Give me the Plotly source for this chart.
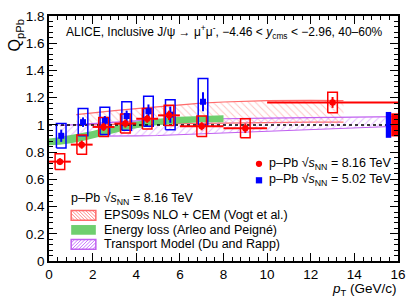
import plotly.graph_objects as go

# ---------------- data ----------------
# p-Pb 8.16 TeV (red)
pt8 = [0.5, 1.5, 2.5, 3.5, 4.5, 5.5, 7.0, 9.0, 13.0]
pt8_lo = [0, 1, 2, 3, 4, 5, 6, 8, 10]
pt8_hi = [1, 2, 3, 4, 5, 6, 8, 10, 20]
q8 = [0.73, 0.855, 0.985, 1.01, 1.045, 1.07, 0.99, 0.975, 1.165]
stat8 = [0.025, 0.03, 0.03, 0.03, 0.03, 0.035, 0.03, 0.035, 0.04]
sys8 = [0.058, 0.07, 0.07, 0.07, 0.075, 0.075, 0.075, 0.07, 0.075]

# p-Pb 5.02 TeV (blue)
pt5 = [0.56, 1.56, 2.56, 3.56, 4.56, 5.56, 7.06]
q5 = [0.92, 1.02, 1.03, 1.065, 1.10, 1.075, 1.17]
stat5 = [0.045, 0.035, 0.035, 0.04, 0.05, 0.06, 0.07]
sys5 = [0.09, 0.10, 0.10, 0.105, 0.11, 0.11, 0.17]

# global uncertainties
glob_x = [[15.44, 15.69], [15.69, 16.0]]
glob_unc = [0.095, 0.085]
glob_col = ["#0000ff", "#ff0000"]

# models
eps_x = [1.25, 2, 3, 4, 5, 6, 7, 8, 10, 12, 13.5]
eps_up = [1.075, 1.09, 1.105, 1.12, 1.135, 1.15, 1.16, 1.168, 1.178, 1.18, 1.178]
eps_lo = [1.0, 1.0, 1.003, 1.005, 1.008, 1.01, 1.012, 1.015, 1.018, 1.02, 1.02]

eloss_x = [0, 0.5, 1, 1.5, 2, 2.5, 3, 3.5, 4, 5, 6, 7, 8]
eloss_up = [0.90, 0.91, 0.925, 0.94, 0.955, 0.975, 0.99, 1.01, 1.025, 1.045, 1.06, 1.065, 1.07]
eloss_lo = [0.85, 0.855, 0.865, 0.88, 0.90, 0.92, 0.94, 0.96, 0.975, 1.0, 1.01, 1.02, 1.02]

tm_x = [0.5, 1, 2, 3, 4, 5, 6, 8, 10, 12, 14, 16]
tm_up = [0.995, 1.0, 1.015, 1.025, 1.03, 1.035, 1.04, 1.045, 1.05, 1.053, 1.056, 1.06]
tm_lo = [0.915, 0.915, 0.917, 0.918, 0.92, 0.922, 0.928, 0.94, 0.955, 0.965, 0.977, 0.99]

REF_Y = 1.0
X_RANGE = [0, 16]
Y_RANGE = [0, 1.8]
BOX_HW = 0.22

FONT = "Liberation Sans, Arial, Helvetica, sans-serif"
RED = "#ff0000"
BLUE = "#0000ff"
EPS_LINE = "#ff6a6a"
EPS_HATCH = "#ff8c8c"
TM_LINE = "#c060f0"
TM_HATCH = "#c878ff"
GREEN = "#6fcf6f"

fig = go.Figure()


def band(x, up, lo):
    return list(x) + list(x)[::-1], list(up) + list(lo)[::-1]


# EPS09 band
bx, by = band(eps_x, eps_up, eps_lo)
fig.add_trace(go.Scatter(x=bx, y=by, fill="toself", mode="none", fillcolor="rgba(0,0,0,0)",
                         fillpattern=dict(shape="\\", fgcolor=EPS_HATCH, bgcolor="rgba(0,0,0,0)",
                                          size=5, solidity=0.2),
                         showlegend=False, hoverinfo="skip"))
for arr in (eps_up, eps_lo):
    fig.add_trace(go.Scatter(x=eps_x, y=arr, mode="lines", line=dict(color=EPS_LINE, width=1.2),
                             showlegend=False, hoverinfo="skip"))

# Transport model band
bx, by = band(tm_x, tm_up, tm_lo)
fig.add_trace(go.Scatter(x=bx, y=by, fill="toself", mode="none", fillcolor="rgba(0,0,0,0)",
                         fillpattern=dict(shape="/", fgcolor=TM_HATCH, bgcolor="rgba(0,0,0,0)",
                                          size=5, solidity=0.2),
                         showlegend=False, hoverinfo="skip"))
for arr in (tm_up, tm_lo):
    fig.add_trace(go.Scatter(x=tm_x, y=arr, mode="lines", line=dict(color=TM_LINE, width=1.2),
                             showlegend=False, hoverinfo="skip"))

# Energy loss band
bx, by = band(eloss_x, eloss_up, eloss_lo)
fig.add_trace(go.Scatter(x=bx, y=by, fill="toself", mode="none", fillcolor=GREEN,
                         showlegend=False, hoverinfo="skip"))

# reference line
fig.add_trace(go.Scatter(x=X_RANGE, y=[REF_Y, REF_Y], mode="lines",
                         line=dict(color="black", width=1.5, dash="dot"),
                         showlegend=False, hoverinfo="skip"))

# global uncertainty boxes
for (gx0, gx1), gu, gc in zip(glob_x, glob_unc, glob_col):
    fig.add_trace(go.Scatter(x=[gx0, gx1, gx1, gx0, gx0],
                             y=[REF_Y - gu, REF_Y - gu, REF_Y + gu, REF_Y + gu, REF_Y - gu],
                             fill="toself", fillcolor=gc, mode="none",
                             showlegend=False, hoverinfo="skip"))


def boxes(xs, ys, ss):
    bxs, bys = [], []
    for x, y, s in zip(xs, ys, ss):
        bxs += [x - BOX_HW, x + BOX_HW, x + BOX_HW, x - BOX_HW, x - BOX_HW, None]
        bys += [y - s, y - s, y + s, y + s, y - s, None]
    return bxs, bys


# systematic boxes
bxs, bys = boxes(pt5, q5, sys5)
fig.add_trace(go.Scatter(x=bxs, y=bys, mode="lines", line=dict(color=BLUE, width=1.5),
                         showlegend=False, hoverinfo="skip"))
bxs, bys = boxes(pt8, q8, sys8)
fig.add_trace(go.Scatter(x=bxs, y=bys, mode="lines", line=dict(color=RED, width=1.5),
                         showlegend=False, hoverinfo="skip"))

# data points
fig.add_trace(go.Scatter(x=pt5, y=q5, mode="markers",
                         marker=dict(symbol="square", size=6, color=BLUE),
                         error_y=dict(type="data", array=stat5, color=BLUE, thickness=2, width=0),
                         showlegend=False))
fig.add_trace(go.Scatter(x=pt8, y=q8, mode="markers",
                         marker=dict(symbol="circle", size=6.5, color=RED),
                         error_y=dict(type="data", array=stat8, color=RED, thickness=2, width=0),
                         error_x=dict(type="data", symmetric=False,
                                      array=[h - p for h, p in zip(pt8_hi, pt8)],
                                      arrayminus=[p - l for p, l in zip(pt8, pt8_lo)],
                                      color=RED, thickness=2, width=0),
                         showlegend=False))

# ---------------- layout ----------------
L, R, T, B = 49, 12, 9, 40
W, H = 415, 301
PW, PH = W - L - R, H - T - B


def px2paper(px, py):
    return (px - L) / PW, (T + PH - py) / PH


shapes = []
annotations = []

# data legend
for (py, sym, col, label) in [(161, "circle", RED, "8.16"), (178, "square", BLUE, "5.02")]:
    cx, cy = px2paper(262, py)
    dx, dy = 3.2 / PW, 3.2 / PH
    shapes.append(dict(type="circle" if sym == "circle" else "rect", xref="paper", yref="paper",
                       x0=cx - dx, x1=cx + dx, y0=cy - dy, y1=cy + dy,
                       fillcolor=col, line=dict(width=0)))
    tx, ty = px2paper(270, py)
    annotations.append(dict(xref="paper", yref="paper", x=tx, y=ty, xanchor="left", yanchor="middle",
                            showarrow=False, text="p\u2013Pb \u221a<i>s</i><sub>NN</sub> = %s TeV" % label,
                            font=dict(family=FONT, size=12.5, color="black")))

# model legend
tx, ty = px2paper(69, 197)
annotations.append(dict(xref="paper", yref="paper", x=tx, y=ty, xanchor="left", yanchor="middle",
                        showarrow=False, text="p\u2013Pb \u221a<i>s</i><sub>NN</sub> = 8.16 TeV",
                        font=dict(family=FONT, size=12.5, color="black")))


def hatch(x0, y0, x1, y1, direction, step=3.5):
    # pixel coords, y0 top, y1 bottom
    h = y1 - y0
    segs = []
    c = x0 - h
    while c < x1:
        if direction == "\\":
            ys = y0 + max(0, x0 - c)
            ye = y0 + min(h, x1 - c)
            if ys < ye:
                segs.append(((c + (ys - y0), ys), (c + (ye - y0), ye)))
        else:
            ys = y1 - max(0, x0 - c)
            ye = y1 - min(h, x1 - c)
            if ye < ys:
                segs.append(((c + (y1 - ys), ys), (c + (y1 - ye), ye)))
        c += step
    path = ""
    for (ax, ay), (bx_, by_) in segs:
        p1 = px2paper(ax, ay)
        p2 = px2paper(bx_, by_)
        path += "M%.5f,%.5f L%.5f,%.5f " % (p1[0], p1[1], p2[0], p2[1])
    return path


items = [(214, "EPS09s NLO + CEM (Vogt et al.)", "eps"),
         (229, "Energy loss (Arleo and Peign\u00e9)", "eloss"),
         (244, "Transport Model (Du and Rapp)", "tm")]
for py, label, kind in items:
    sx0, sx1 = 71.5, 96.5
    sy0, sy1 = py - 5, py + 5
    a = px2paper(sx0, sy1)
    b = px2paper(sx1, sy0)
    if kind == "eloss":
        shapes.append(dict(type="rect", xref="paper", yref="paper", x0=a[0], y0=a[1], x1=b[0], y1=b[1],
                           fillcolor=GREEN, line=dict(width=0)))
    else:
        hc = EPS_HATCH if kind == "eps" else TM_HATCH
        lc = EPS_LINE if kind == "eps" else TM_LINE
        shapes.append(dict(type="path", xref="paper", yref="paper",
                           path=hatch(sx0, sy0, sx1, sy1, "\\" if kind == "eps" else "/"),
                           line=dict(color=hc, width=1)))
        shapes.append(dict(type="rect", xref="paper", yref="paper", x0=a[0], y0=a[1], x1=b[0], y1=b[1],
                           fillcolor="rgba(0,0,0,0)", line=dict(color=lc, width=1.5)))
    tx, ty = px2paper(103, py)
    annotations.append(dict(xref="paper", yref="paper", x=tx, y=ty, xanchor="left", yanchor="middle",
                            showarrow=False, text=label,
                            font=dict(family=FONT, size=12.5, color="black")))

# header text
hx, hy = px2paper(227, 25)
annotations.append(dict(xref="paper", yref="paper", x=hx, y=hy, xanchor="center", yanchor="middle",
                        showarrow=False,
                        text="ALICE, Inclusive J/\u03c8 \u2192 \u03bc<sup>+</sup>\u03bc<sup>-</sup>, \u22124.46 &lt; <i>y</i><sub>cms</sub> &lt; \u22122.96, 40\u201360%",
                        font=dict(family=FONT, size=12, color="black")))

# axis titles
ax_, ay_ = px2paper(16, 10)
annotations.append(dict(xref="paper", yref="paper", x=ax_, y=ay_, xanchor="center", yanchor="top",
                        showarrow=False, textangle=-90, text="Q<sub>pPb</sub>",
                        font=dict(family=FONT, size=16, color="black")))
bx_, by_ = px2paper(404, 301)
annotations.append(dict(xref="paper", yref="paper", x=bx_, y=by_, xanchor="right", yanchor="bottom",
                        showarrow=False, text="<i>p</i><sub>T</sub> (GeV/c)",
                        font=dict(family=FONT, size=13.5, color="black")))

axis_common = dict(showline=True, linecolor="black", linewidth=1.5, mirror="allticks",
                   ticks="inside", ticklen=8, tickwidth=1.2, tickcolor="black",
                   showgrid=False, zeroline=False,
                   tickfont=dict(family=FONT, size=13.5, color="black"))

fig.update_layout(
    width=W, height=H,
    margin=dict(l=L, r=R, t=T, b=B),
    paper_bgcolor="white", plot_bgcolor="white",
    showlegend=False,
    xaxis=dict(range=X_RANGE, dtick=2, tick0=0, ticklabelstandoff=0,
               minor=dict(dtick=0.4, ticks="inside", ticklen=4, tickcolor="black", showgrid=False),
               **axis_common),
    yaxis=dict(range=Y_RANGE, dtick=0.2, tick0=0,
               minor=dict(dtick=0.04, ticks="inside", ticklen=4, tickcolor="black", showgrid=False),
               **axis_common),
    shapes=shapes,
    annotations=annotations,
)

fig.write_html("out.html", config={"displayModeBar": False},
               post_script="document.body.style.margin='0px';document.body.style.padding='0px';"
                           "document.body.style.overflow='hidden';")
